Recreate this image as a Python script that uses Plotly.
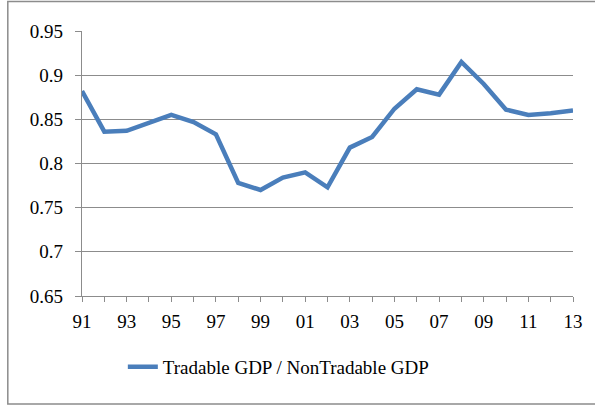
import plotly.graph_objects as go

# ratio of tradable to non-tradable GDP, 1991-2013
years = list(range(1991, 2014))
ratio = [0.882, 0.836, 0.837, 0.846, 0.855, 0.847, 0.833, 0.778, 0.770, 0.784,
         0.790, 0.773, 0.818, 0.830, 0.862, 0.884, 0.878, 0.915, 0.890, 0.861,
         0.855, 0.857, 0.860]
tick_labels = ['91', '', '93', '', '95', '', '97', '', '99', '', '01', '', '03', '',
               '05', '', '07', '', '09', '', '11', '', '13']
series_name = 'Tradable GDP / NonTradable GDP'

W, H = 595, 405
L, R, T, B = 82, 20, 31, 109
pw, ph = W - L - R, H - T - B

fig = go.Figure(go.Scatter(
    x=years, y=ratio, mode='lines', name=series_name,
    line=dict(color='#4A7EBB', width=4.5),
))

grid = '#8C8C8C'
font = dict(family='Liberation Serif', size=19, color='#000000')

fig.update_layout(
    width=W, height=H,
    margin=dict(l=L, r=R, t=T, b=B),
    paper_bgcolor='white', plot_bgcolor='white',
    font=font,
    showlegend=True,
    legend=dict(orientation='h', x=(123 - L) / pw, y=(296 - 367) / ph,
                xanchor='left', yanchor='middle', font=font,
                bgcolor='rgba(0,0,0,0)'),
    xaxis=dict(range=[years[0], years[-1]], tickvals=years, ticktext=tick_labels,
               ticks='outside', ticklen=5, tickcolor=grid, tickwidth=1.3,
               showline=True, linecolor=grid, linewidth=1.3, ticklabelstandoff=3,
               showgrid=False, zeroline=False, tickfont=font),
    yaxis=dict(range=[0.65, 0.95], tickvals=[0.65, 0.7, 0.75, 0.8, 0.85, 0.9, 0.95],
               ticktext=['0.65', '0.7', '0.75', '0.8', '0.85', '0.9', '0.95'],
               ticks='outside', ticklen=6, tickcolor=grid, tickwidth=1.3,
               showline=True, linecolor=grid, linewidth=1.3, ticklabelstandoff=8,
               showgrid=True, gridcolor=grid, gridwidth=1.3,
               zeroline=False, tickfont=font),
)

# outer chart frame (right side runs off the picture)
fig.add_shape(type='rect', xref='paper', yref='paper',
              x0=(7.5 - L) / pw, x1=(600 - L) / pw,
              y0=(296 - 404) / ph, y1=(296 - 1.5) / ph,
              line=dict(color='#8C8C8C', width=1.5), fillcolor='rgba(0,0,0,0)',
              layer='below')

fig.write_html('out.html', config={'displayModeBar': False},
               post_script="document.body.style.margin='0';")
